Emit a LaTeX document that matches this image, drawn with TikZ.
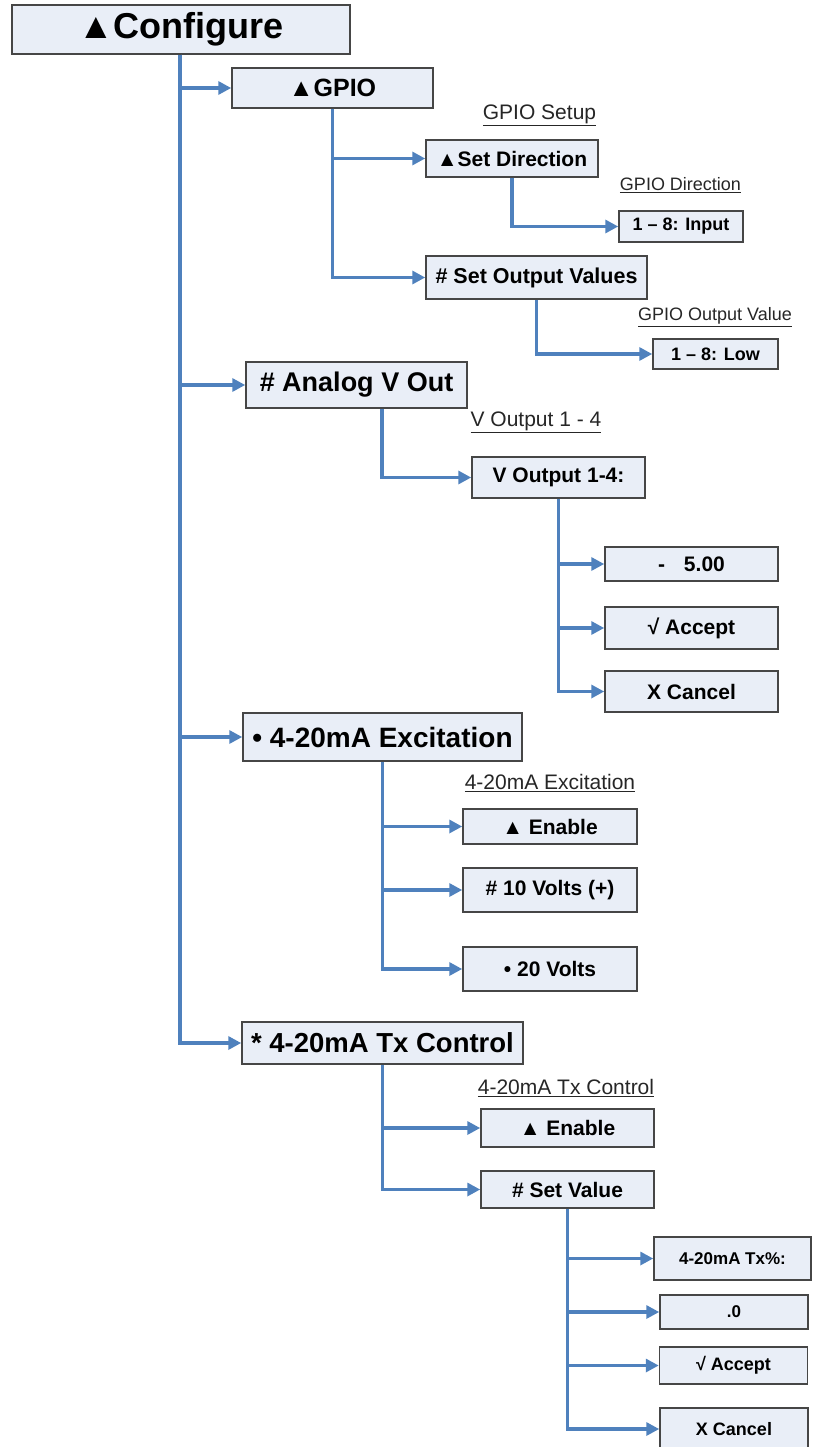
\documentclass[tikz,border=0pt]{standalone}
\usepackage{fontspec}
\setmainfont{Liberation Sans}
\usetikzlibrary{arrows.meta}
\definecolor{boxfill}{RGB}{233,238,247}
\definecolor{linkblue}{RGB}{79,129,189}
\definecolor{boxline}{RGB}{70,70,70}
\newcommand{\fsz}[1]{\fontsize{#1}{#1}\selectfont}
\begin{document}
\begin{tikzpicture}[x=1pt,y=-1pt,
  mbox/.style={draw=boxline, fill=boxfill, line width=1.5pt, inner sep=0pt, anchor=center, align=center, font=\bfseries},
  conn/.style={draw=linkblue, line width=3.3pt, -{Triangle[length=13pt,width=13pt]}},
  lbl/.style={inner sep=0pt, anchor=center, text=black!85}]
\useasboundingbox (0,0) rectangle (812,1447);

% level 0
\node[mbox, minimum width=338, minimum height=49, font=\bfseries\fsz{36}] (cfg) at (181,29.5) {▲Configure};

% GPIO
\node[mbox, minimum width=201, minimum height=40, font=\bfseries\fsz{25}] (gpio) at (332.5,88) {▲GPIO};
\node[lbl, font=\fsz{21}] (lgpio) at (539.5,115) {\underline{GPIO Setup}};
\node[mbox, minimum width=172, minimum height=37, font=\bfseries\fsz{21}] (setdir) at (512,158.5) {▲Set Direction};
\node[lbl, font=\fsz{18}] (ldir) at (680.5,185) {\underline{GPIO Direction}};
\node[mbox, minimum width=124, minimum height=31, font=\bfseries\fsz{18}] (input) at (681,226.5) {1 – 8: Input};
\node[mbox, minimum width=221, minimum height=43, font=\bfseries\fsz{21.5}] (setout) at (536.5,277.5) {\# Set Output Values};
\node[lbl, font=\fsz{18}] (lout) at (715,317) {\underline{GPIO Output Value}};
\node[mbox, minimum width=125, minimum height=30, font=\bfseries\fsz{18}] (low) at (715.5,354) {1 – 8: Low};

% Analog V Out
\node[mbox, minimum width=221, minimum height=46, font=\bfseries\fsz{27}] (analog) at (356.5,385) {\# Analog V Out};
\node[lbl, font=\fsz{21}] (lvout) at (536,422) {\underline{V Output 1 - 4}};
\node[mbox, minimum width=173, minimum height=41, font=\bfseries\fsz{21}] (vout) at (558.5,477.5) {V Output 1-4:};
\node[mbox, minimum width=173, minimum height=34, font=\bfseries\fsz{21}] (val) at (691.5,564) {-\hspace{0.9em}5.00};
\node[mbox, minimum width=173, minimum height=42, font=\bfseries\fsz{21}] (acc1) at (691.5,628) {√ Accept};
\node[mbox, minimum width=173, minimum height=41, font=\bfseries\fsz{21}] (can1) at (691.5,691.5) {X Cancel};

% Excitation
\node[mbox, minimum width=279, minimum height=48, font=\bfseries\fsz{28}] (exc) at (382.5,737) {• 4-20mA Excitation};
\node[lbl, font=\fsz{21}] (lexc) at (550,783) {\underline{4-20mA Excitation}};
\node[mbox, minimum width=174, minimum height=35, font=\bfseries\fsz{21}] (en1) at (550,826.5) {▲ Enable};
\node[mbox, minimum width=174, minimum height=44, font=\bfseries\fsz{21}] (v10) at (550,890) {\# 10 Volts (+)};
\node[mbox, minimum width=174, minimum height=44, font=\bfseries\fsz{21}] (v20) at (550,969) {• 20 Volts};

% Tx Control
\node[mbox, minimum width=281, minimum height=42, font=\bfseries\fsz{27.5}] (tx) at (382.5,1043) {* 4-20mA Tx Control};
\node[lbl, font=\fsz{21}] (ltx) at (566,1088) {\underline{4-20mA Tx Control}};
\node[mbox, minimum width=173, minimum height=38, font=\bfseries\fsz{21}] (en2) at (567.5,1128) {▲ Enable};
\node[mbox, minimum width=173, minimum height=37, font=\bfseries\fsz{21}] (setval) at (567.5,1189.5) {\# Set Value};
\node[mbox, minimum width=157, minimum height=43, font=\bfseries\fsz{17}] (txp) at (732.5,1258.5) {4-20mA Tx\%:};
\node[mbox, minimum width=148, minimum height=34, font=\bfseries\fsz{17}] (zero) at (734,1312) {.0};
\node[mbox, minimum width=148, minimum height=37, font=\bfseries\fsz{18}] (acc2) at (733.5,1365.5) {√ Accept};
\node[mbox, minimum width=148, minimum height=42, font=\bfseries\fsz{18}] (can2) at (734,1429) {X Cancel};

% connectors
\draw[conn] ([xshift=-1pt]cfg.south) |- (gpio.west);
\draw[conn] ([xshift=-1pt]cfg.south) |- (analog.west);
\draw[conn] ([xshift=-1pt]cfg.south) |- (exc.west);
\draw[conn] ([xshift=-1pt]cfg.south) |- (tx.west);

\draw[conn] (gpio.south) |- (setdir.west);
\draw[conn] (gpio.south) |- (setout.west);
\draw[conn] (setdir.south) |- (input.west);
\draw[conn] (setout.south) |- (low.west);

\draw[conn] ([xshift=25.5pt]analog.south) |- (vout.west);
\draw[conn] (vout.south) |- (val.west);
\draw[conn] (vout.south) |- (acc1.west);
\draw[conn] (vout.south) |- (can1.west);

\draw[conn] (exc.south) |- (en1.west);
\draw[conn] (exc.south) |- (v10.west);
\draw[conn] (exc.south) |- (v20.west);

\draw[conn] (tx.south) |- (en2.west);
\draw[conn] (tx.south) |- (setval.west);
\draw[conn] (setval.south) |- (txp.west);
\draw[conn] (setval.south) |- (zero.west);
\draw[conn] (setval.south) |- (acc2.west);
\draw[conn] (setval.south) |- (can2.west);
\end{tikzpicture}
\end{document}
